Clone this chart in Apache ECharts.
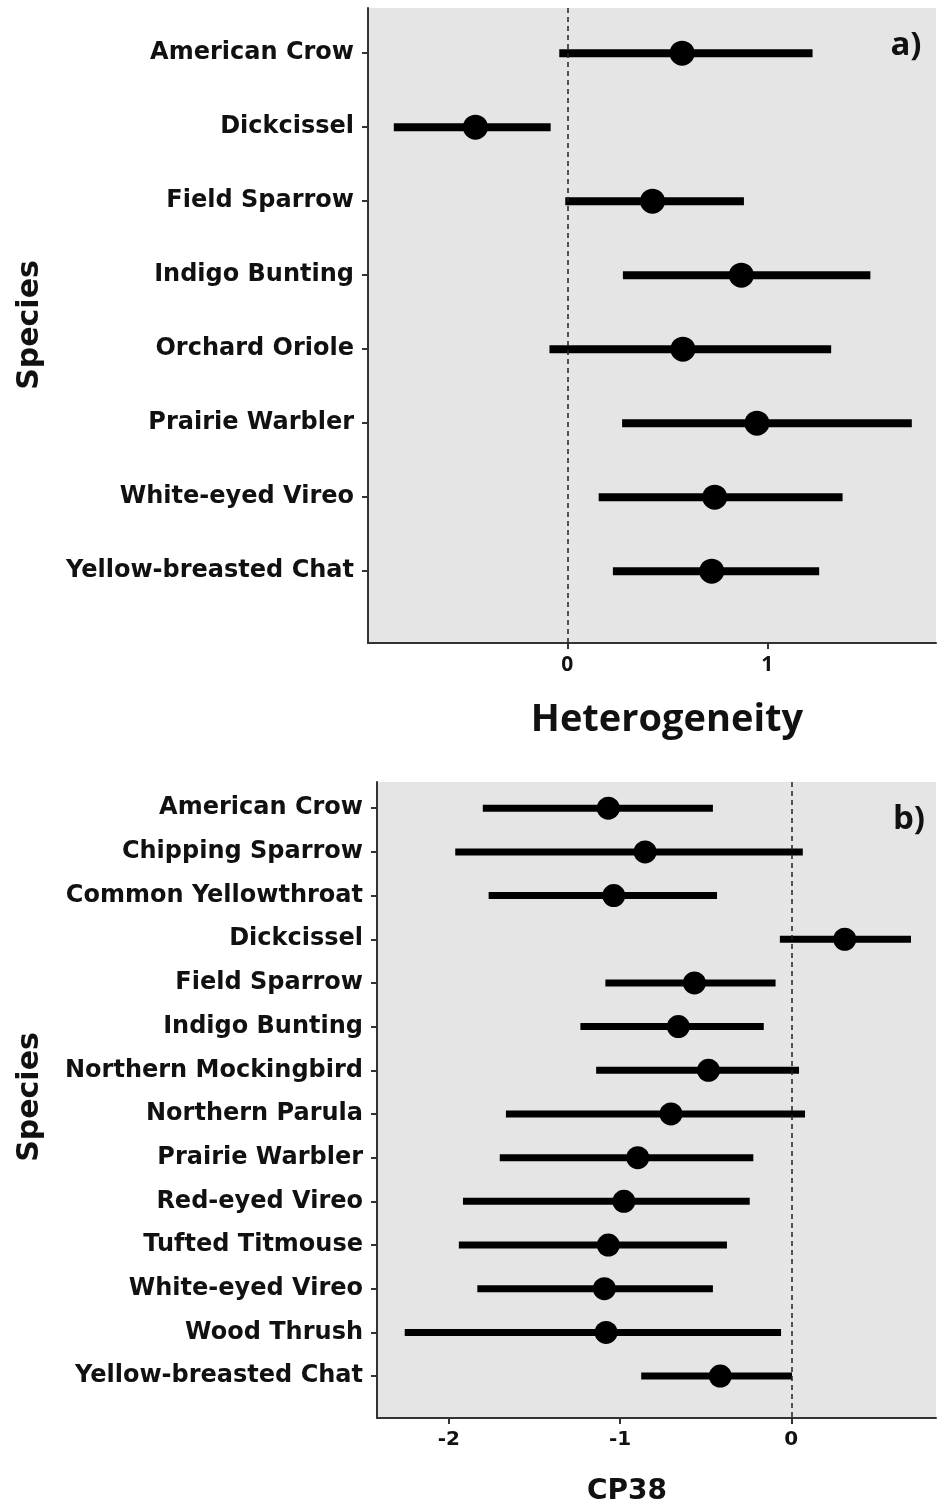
<!DOCTYPE html>
<html><head><meta charset="utf-8">
<script src="https://cdn.jsdelivr.net/npm/echarts@6/dist/echarts.min.js"></script>
<style>html,body{margin:0;padding:0;background:#fff}#c{width:940px;height:1508px}</style>
</head><body><div id="c"></div>
<script>
// Panel a: Heterogeneity
const speciesA = ['American Crow','Dickcissel','Field Sparrow','Indigo Bunting','Orchard Oriole','Prairie Warbler','White-eyed Vireo','Yellow-breasted Chat'];
const estA  = [0.574, -0.459, 0.426, 0.870, 0.578, 0.948, 0.737, 0.722];
const lowA  = [-0.04, -0.867, -0.01, 0.278, -0.089, 0.274, 0.157, 0.228];
const highA = [1.226, -0.083, 0.883, 1.515, 1.319, 1.722, 1.376, 1.259];
const xTicksA = [0, 1];

// Panel b: CP38
const speciesB = ['American Crow','Chipping Sparrow','Common Yellowthroat','Dickcissel','Field Sparrow','Indigo Bunting','Northern Mockingbird','Northern Parula','Prairie Warbler','Red-eyed Vireo','Tufted Titmouse','White-eyed Vireo','Wood Thrush','Yellow-breasted Chat'];
const estB  = [-1.069, -0.854, -1.037, 0.312, -0.566, -0.660, -0.484, -0.703, -0.897, -0.978, -1.069, -1.092, -1.082, -0.415];
const lowB  = [-1.802, -1.963, -1.768, -0.067, -1.086, -1.232, -1.140, -1.667, -1.703, -1.918, -1.942, -1.834, -2.258, -0.877];
const highB = [-0.458, 0.067, -0.434, 0.699, -0.092, -0.161, 0.045, 0.080, -0.222, -0.243, -0.376, -0.458, -0.060, 0.004];
const xTicksB = [-2, -1, 0];

const chart = echarts.init(document.getElementById('c'));
const labFont = 'DejaVu Sans';
function idx(arr){ return arr.map((_, i) => i); }

function errSeries(gi, lo, hi, w){
  return {
    type: 'custom', xAxisIndex: gi, yAxisIndex: gi, silent: true, z: 3,
    renderItem: function(params, api){
      const p1 = api.coord([api.value(0), api.value(2)]);
      const p2 = api.coord([api.value(1), api.value(2)]);
      return {type: 'line', shape: {x1: p1[0], y1: p1[1], x2: p2[0], y2: p2[1]},
              style: {stroke: '#000', lineWidth: w, lineCap: 'butt'}};
    },
    encode: {x: [0, 1], y: 2},
    data: lo.map((v, i) => [v, hi[i], i])
  };
}
function ptSeries(gi, est, size){
  return {
    type: 'scatter', xAxisIndex: gi, yAxisIndex: gi, silent: true, z: 4,
    symbol: 'circle', symbolSize: size, itemStyle: {color: '#000', opacity: 1},
    data: est.map((v, i) => [v, i])
  };
}
function zeroLine(gi){
  return {
    type: 'line', xAxisIndex: gi, yAxisIndex: gi, data: [], silent: true, z: 2,
    markLine: {silent: true, symbol: 'none', label: {show: false},
      lineStyle: {color: '#222', type: [5, 4], width: 1.5},
      data: [{xAxis: 0}]}
  };
}

const axisLineStyle = {show: true, onZero: false, lineStyle: {color: '#333', width: 2}};
const tickStyle = {color: '#333', width: 2};

chart.setOption({
  animation: false,
  backgroundColor: '#fff',
  grid: [
    {left: 368, top: 8, width: 568, height: 635, show: true, backgroundColor: '#e5e5e5', borderWidth: 0},
    {left: 377, top: 782, width: 559, height: 636, show: true, backgroundColor: '#e5e5e5', borderWidth: 0}
  ],
  xAxis: [
    {type: 'value', gridIndex: 0, min: -0.996, max: 1.843,
     axisLine: axisLineStyle, splitLine: {show: false},
     axisTick: {show: true, length: 6, lineStyle: tickStyle, customValues: xTicksA},
     axisLabel: {customValues: xTicksA, margin: 12, color: '#111', fontFamily: 'Open Sans', fontWeight: 'bold', fontSize: 21}},
    {type: 'value', gridIndex: 1, min: -2.42, max: 0.845,
     axisLine: axisLineStyle, splitLine: {show: false},
     axisTick: {show: true, length: 6, lineStyle: tickStyle, customValues: xTicksB},
     axisLabel: {customValues: xTicksB, margin: 12, color: '#111', fontFamily: labFont, fontWeight: 'bold', fontSize: 20}}
  ],
  yAxis: [
    {type: 'value', gridIndex: 0, inverse: true, min: -0.61, max: 7.97,
     axisLine: axisLineStyle, splitLine: {show: false},
     axisTick: {show: true, length: 6, lineStyle: tickStyle, customValues: idx(speciesA)},
     axisLabel: {customValues: idx(speciesA), margin: 14, color: '#111', fontFamily: labFont, fontWeight: 'bold', fontSize: 24,
       padding: [5, 0, 0, 0], formatter: v => speciesA[Math.round(v)]}},
    {type: 'value', gridIndex: 1, inverse: true, min: -0.6, max: 13.96,
     axisLine: axisLineStyle, splitLine: {show: false},
     axisTick: {show: true, length: 6, lineStyle: tickStyle, customValues: idx(speciesB)},
     axisLabel: {customValues: idx(speciesB), margin: 14, color: '#111', fontFamily: labFont, fontWeight: 'bold', fontSize: 24,
       padding: [4, 0, 0, 0], formatter: v => speciesB[Math.round(v)]}}
  ],
  graphic: [
    {type: 'text', x: 30, y: 325, rotation: Math.PI / 2,
     style: {text: 'Species', font: 'bold 30px "DejaVu Sans"', fill: '#111', align: 'center', verticalAlign: 'middle'}},
    {type: 'text', x: 30, y: 1097, rotation: Math.PI / 2,
     style: {text: 'Species', font: 'bold 30px "DejaVu Sans"', fill: '#111', align: 'center', verticalAlign: 'middle'}},
    {type: 'text', x: 667, y: 720,
     style: {text: 'Heterogeneity', font: 'bold 38px "Open Sans"', fill: '#111', align: 'center', verticalAlign: 'middle'}},
    {type: 'text', x: 627, y: 1492,
     style: {text: 'CP38', font: 'bold 28px "DejaVu Sans"', fill: '#111', align: 'center', verticalAlign: 'middle'}},
    {type: 'text', x: 906, y: 46, z: 10,
     style: {text: 'a)', font: 'bold 33px "Open Sans"', fill: '#111', align: 'center', verticalAlign: 'middle'}},
    {type: 'text', x: 909, y: 820, z: 10,
     style: {text: 'b)', font: 'bold 33px "Open Sans"', fill: '#111', align: 'center', verticalAlign: 'middle'}}
  ],
  series: [
    zeroLine(0), errSeries(0, lowA, highA, 8), ptSeries(0, estA, 25),
    zeroLine(1), errSeries(1, lowB, highB, 7), ptSeries(1, estB, 23)
  ]
});
</script>
</body></html>
